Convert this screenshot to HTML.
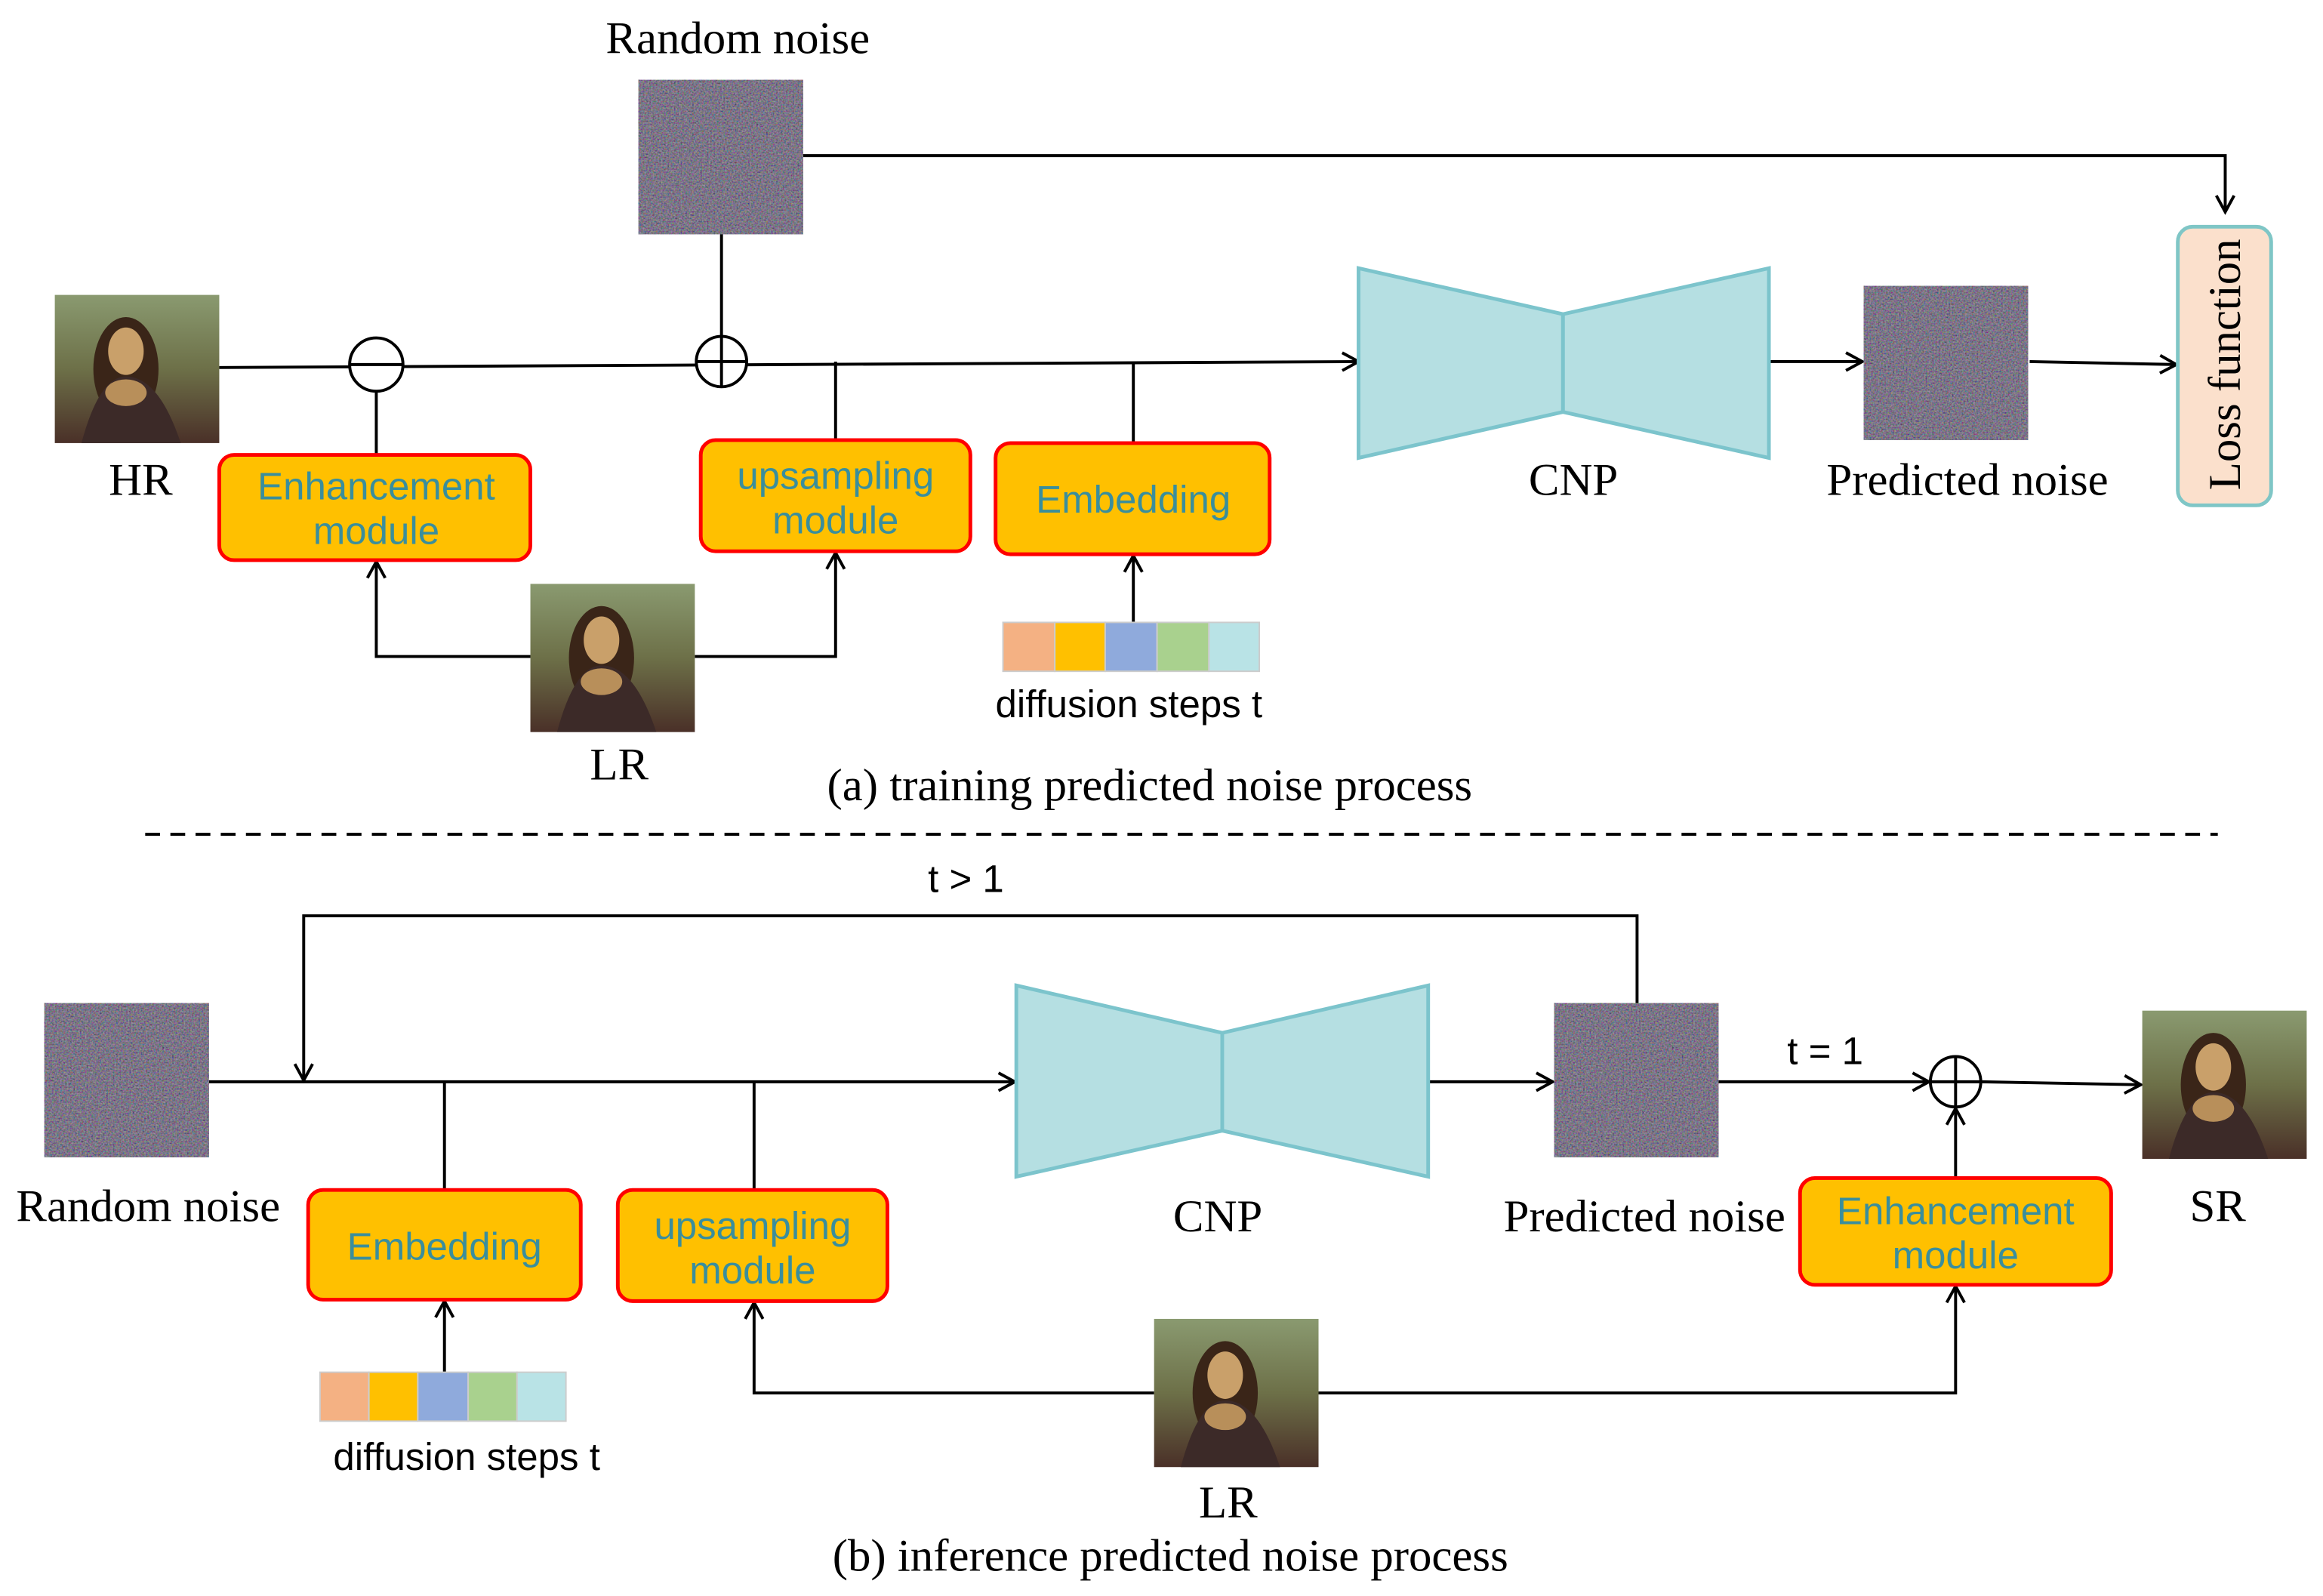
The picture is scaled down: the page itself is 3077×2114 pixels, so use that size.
<!DOCTYPE html>
<html><head><meta charset="utf-8"><style>
html,body{margin:0;padding:0;background:#fff;width:3077px;height:2114px;overflow:hidden}
svg{display:block}
.serif{font-family:"Liberation Serif",serif;font-size:31px;fill:#000}
.sans{font-family:"Liberation Sans",sans-serif;font-size:26px;fill:#000}
.mod{font-family:"Liberation Sans",sans-serif;font-size:26px;fill:#3a8e9c}
</style></head><body>
<svg width="3077" height="2114" viewBox="0 0 1568 1077" preserveAspectRatio="none" xmlns="http://www.w3.org/2000/svg">
<defs>
<filter id="nz" x="0" y="0" width="100%" height="100%">
<feTurbulence type="fractalNoise" baseFrequency="0.9" numOctaves="2" seed="3"/>
<feColorMatrix type="matrix" values="0.7 0 0 0 -0.1  0 0.6 0 0 -0.08  0 0 0.7 0 -0.05  0 0 0 0 1"/>
</filter>
<marker id="ar" markerWidth="14" markerHeight="14" refX="12" refY="7" orient="auto" markerUnits="userSpaceOnUse">
<path d="M1,1 L12,7 L1,13" fill="none" stroke="#000" stroke-width="2"/>
</marker>
<linearGradient id="bg" x1="0" y1="0" x2="0" y2="1">
<stop offset="0" stop-color="#8a9a70"/><stop offset="0.5" stop-color="#6d7048"/><stop offset="1" stop-color="#4a3028"/>
</linearGradient>
<g id="mona">
<rect width="111" height="100" fill="url(#bg)"/>
<ellipse cx="48" cy="50" rx="22" ry="35" fill="#3a2518"/>
<ellipse cx="48" cy="38" rx="12" ry="16" fill="#c9a06a"/>
<path d="M18,100 Q30,55 48,55 Q70,55 85,100 Z" fill="#3c2a28"/>
<ellipse cx="48" cy="66" rx="14" ry="9" fill="#b88f5a"/>
</g>
<g id="noise"><rect width="111" height="104" fill="#3a3840"/><rect width="111" height="104" filter="url(#nz)" opacity="0.85"/></g>
</defs>
<g stroke="#000" stroke-width="2" fill="none">
<path d="M542,105 H1502 V143" marker-end="url(#ar)"/>
<path d="M148,248 L917,244" marker-end="url(#ar)"/>
<path d="M487,157 V227"/>
<path d="M254,264 V307"/>
<path d="M564,244 V297"/>
<path d="M765,244 V299"/>
<path d="M1194,244 H1257" marker-end="url(#ar)"/>
<path d="M1370,244 L1469,246" marker-end="url(#ar)"/>
<path d="M358,443 H254 V379" marker-end="url(#ar)"/>
<path d="M469,443 H564 V373" marker-end="url(#ar)"/>
<path d="M765,420 V375" marker-end="url(#ar)"/>
<circle cx="254" cy="246" r="18" fill="#fff"/>
<path d="M236,246 H272"/>
<circle cx="487" cy="244" r="17" fill="#fff"/>
<path d="M470,244 H504 M487,227 V261"/>
<path d="M98,563 H1497" stroke-dasharray="10,7"/>
<path d="M1105,677 V618 H205 V729" marker-end="url(#ar)"/>
<path d="M141,730 H685" marker-end="url(#ar)"/>
<path d="M300,730 V803"/>
<path d="M509,730 V803"/>
<path d="M300,926 V878" marker-end="url(#ar)"/>
<path d="M964,730 H1048" marker-end="url(#ar)"/>
<path d="M1160,730 H1302" marker-end="url(#ar)"/>
<path d="M1337,730 L1445,732" marker-end="url(#ar)"/>
<path d="M1320,795 V748" marker-end="url(#ar)"/>
<path d="M779,940 H509 V879" marker-end="url(#ar)"/>
<path d="M890,940 H1320 V868" marker-end="url(#ar)"/>
<circle cx="1320" cy="730" r="17" fill="#fff"/>
<path d="M1303,730 H1337 M1320,713 V747"/>
</g>
<use href="#noise" x="431" y="54"/>
<use href="#mona" x="37" y="199"/>
<use href="#noise" x="1258" y="193"/>
<use href="#mona" x="358" y="394"/>
<use href="#noise" x="30" y="677"/>
<use href="#noise" x="1049" y="677"/>
<use href="#mona" x="1446" y="682"/>
<use href="#mona" x="779" y="890"/>
<g fill="#b5dfe2" stroke="#7cc4cc" stroke-width="2.5">
<path d="M917,181 L1055,212 L1055,278 L917,309 Z"/><path d="M1055,212 L1194,181 L1194,309 L1055,278 Z"/>
<path d="M686,665 L825,697 L825,763 L686,794 Z"/><path d="M825,697 L964,665 L964,794 L825,763 Z"/>
</g>
<rect x="1470" y="153" width="63" height="188" rx="10" fill="#fbe0cc" stroke="#7fc6c6" stroke-width="2.5"/>
<text class="serif" transform="translate(1512,246) rotate(-90)" text-anchor="middle">Loss function</text>
<g fill="#ffc000" stroke="#ff0000" stroke-width="2.5">
<rect x="148" y="307" width="210" height="71" rx="10"/>
<rect x="473" y="297" width="182" height="75" rx="10"/>
<rect x="672" y="299" width="185" height="75" rx="10"/>
<rect x="208" y="803" width="184" height="74" rx="10"/>
<rect x="417" y="803" width="182" height="75" rx="10"/>
<rect x="1215" y="795" width="210" height="72" rx="10"/>
</g>
<g class="mod" text-anchor="middle">
<text x="254" y="337">Enhancement</text><text x="254" y="367">module</text>
<text x="564" y="330">upsampling</text><text x="564" y="360">module</text>
<text x="765" y="346">Embedding</text>
<text x="300" y="850">Embedding</text>
<text x="508" y="836">upsampling</text><text x="508" y="866">module</text>
<text x="1320" y="826">Enhancement</text><text x="1320" y="856">module</text>
</g>
<g stroke="#ccc" stroke-width="1">
<rect x="677" y="420" width="35" height="33" fill="#f4b183"/><rect x="712" y="420" width="34" height="33" fill="#ffc000"/>
<rect x="746" y="420" width="35" height="33" fill="#8faadc"/><rect x="781" y="420" width="35" height="33" fill="#a9d18e"/>
<rect x="816" y="420" width="34" height="33" fill="#b9e3e6"/>
<rect x="216" y="926" width="33" height="33" fill="#f4b183"/><rect x="249" y="926" width="33" height="33" fill="#ffc000"/>
<rect x="282" y="926" width="34" height="33" fill="#8faadc"/><rect x="316" y="926" width="33" height="33" fill="#a9d18e"/>
<rect x="349" y="926" width="33" height="33" fill="#b9e3e6"/>
</g>
<g class="serif" text-anchor="middle">
<text x="498" y="36">Random noise</text>
<text x="95" y="334">HR</text>
<text x="1062" y="334">CNP</text>
<text x="1328" y="334">Predicted noise</text>
<text x="418" y="526">LR</text>
<text x="776" y="540">(a) training predicted noise process</text>
<text x="100" y="824">Random noise</text>
<text x="822" y="831">CNP</text>
<text x="1110" y="831">Predicted noise</text>
<text x="1497" y="824">SR</text>
<text x="829" y="1024">LR</text>
<text x="790" y="1060">(b) inference predicted noise process</text>
</g>
<g class="sans" text-anchor="middle">
<text x="762" y="484">diffusion steps t</text>
<text x="652" y="602">t &gt; 1</text>
<text x="1232" y="718">t = 1</text>
<text x="315" y="992">diffusion steps t</text>
</g>
</svg>
</body></html>
